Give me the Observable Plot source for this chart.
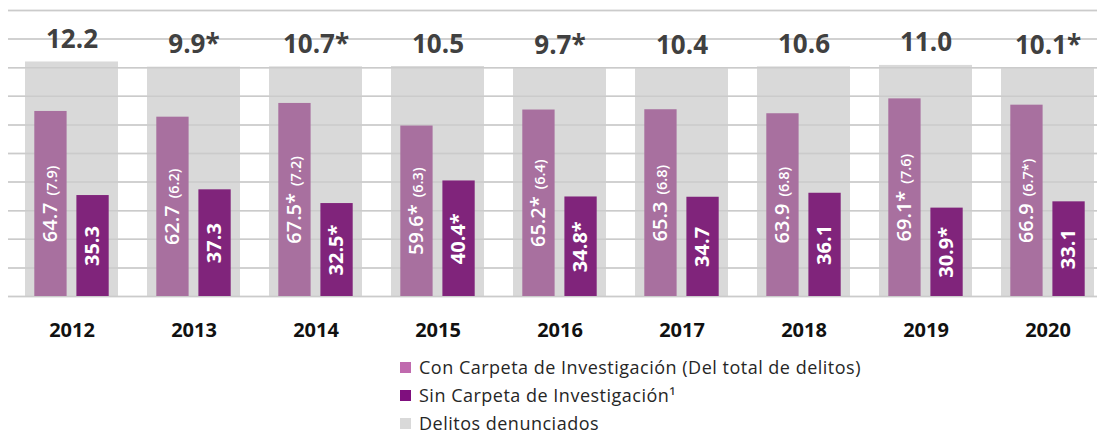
<!DOCTYPE html>
<html>
<head>
<meta charset="utf-8">
<script src="https://cdn.jsdelivr.net/npm/d3@7"></script>
<script src="https://cdn.jsdelivr.net/npm/@observablehq/plot@0.6"></script>
<style>
  html, body { margin: 0; padding: 0; background: #fff; }
  body { font-family: "Open Sans", sans-serif; width: 1097px; }
  #legend { padding-top: 8px; margin-left: 400px; }
  .row { display: flex; align-items: center; height: 28px; font-size: 18px; letter-spacing: 0.5px; color: #262626; line-height: 20px; }
  .sw { width: 11px; height: 11px; margin-right: 8px; flex: none; }
</style>
</head>
<body>
<div id="chart"></div>
<div id="legend"></div>
<script>
const years = ["2012", "2013", "2014", "2015", "2016", "2017", "2018", "2019", "2020"];
// Con Carpeta de Investigación (% of delitos denunciados)
const conValues = [64.7, 62.7, 67.5, 59.6, 65.2, 65.3, 63.9, 69.1, 66.9];
const conLabels = ["64.7", "62.7", "67.5*", "59.6*", "65.2*", "65.3", "63.9", "69.1*", "66.9"];
const conSubLabels = ["(7.9)", "(6.2)", "(7.2)", "(6.3)", "(6.4)", "(6.8)", "(6.8)", "(7.6)", "(6.7*)"];
// Sin Carpeta de Investigación
const sinValues = [35.3, 37.3, 32.5, 40.4, 34.8, 34.7, 36.1, 30.9, 33.1];
const sinLabels = ["35.3", "37.3", "32.5*", "40.4*", "34.8*", "34.7", "36.1", "30.9*", "33.1"];
// Delitos denunciados
const denValues = [12.2, 9.9, 10.7, 10.5, 9.7, 10.4, 10.6, 11.0, 10.1];
const denLabels = ["12.2", "9.9*", "10.7*", "10.5", "9.7*", "10.4", "10.6", "11.0", "10.1*"];
// background bar heights as drawn in the picture (on the 0–100 scale)
const denBarHeights = [82, 80.2, 80.3, 80.4, 79.8, 79.8, 80.3, 80.8, 79.8];
const gridTicks = [0, 10, 20, 30, 40, 50, 60, 70, 80, 90, 100];

const seriesNames = ["Con Carpeta de Investigación (Del total de delitos)", "Sin Carpeta de Investigación¹", "Delitos denunciados"];
const legendColors = ["#c06aae", "#7f0f7e", "#d9d9d9"];

const rows = years.map((year, i) => ({
  year,
  con: conValues[i],
  conLabel: conLabels[i] + "|" + conSubLabels[i],
  sin: sinValues[i],
  sinLabel: sinLabels[i],
  den: denValues[i],
  denLabel: denLabels[i],
  denBar: denBarHeights[i]
}));

const PINK = "#a8709f", PURPLE = "#80247b", GRAY = "#d9d9d9";

const plot = Plot.plot({
  width: 1097,
  height: 345,
  marginTop: 10,
  marginBottom: 49,
  marginLeft: 8,
  marginRight: 0,
  style: { fontFamily: "Open Sans", background: "transparent" },
  x: { domain: years, paddingInner: 0.24, paddingOuter: 0.072, align: 0.83, axis: null },
  y: { domain: [0, 100], axis: null },
  marks: [
    Plot.ruleY(gridTicks, { stroke: "#d9d9d9", strokeWidth: 1.5 }),
    Plot.barY(rows, { x: "year", y: "denBar", fill: GRAY }),
    Plot.ruleY(gridTicks, { stroke: "#c9c9c9", strokeWidth: 1.5, strokeOpacity: 0.9 }),
    Plot.barY(rows, { x: "year", y: "con", fill: PINK, insetLeft: 9.3, insetRight: 51.4 }),
    Plot.barY(rows, { x: "year", y: "sin", fill: PURPLE, insetLeft: 51.4, insetRight: 9.3 }),
    Plot.text(rows, { x: "year", y: "denBar", text: "denLabel", lineAnchor: "bottom", dy: -14,
      fontSize: 26, fontWeight: "bold", fill: "#404040" }),
    Plot.text(rows, { x: "year", y: d => d.con / 2, text: "conLabel", rotate: -90, dx: -21,
      fill: "white", fontSize: 20, fontWeight: 600 }),
    Plot.text(rows, { x: "year", y: d => d.sin / 2, text: "sinLabel", rotate: -90, dx: 21,
      fill: "white", fontSize: 20, fontWeight: "bold" }),
    Plot.text(rows, { x: "year", frameAnchor: "bottom", text: "year", lineAnchor: "top", dy: 26,
      fontSize: 20, fontWeight: "bold", fill: "#111" })
  ]
});

// split "main|sub" labels into two differently sized tspans
plot.querySelectorAll("text").forEach(t => {
  const s = t.textContent;
  if (s.includes("|")) {
    const [main, sub] = s.split("|");
    t.textContent = "";
    const a = document.createElementNS("http://www.w3.org/2000/svg", "tspan");
    a.textContent = main;
    const b = document.createElementNS("http://www.w3.org/2000/svg", "tspan");
    b.textContent = sub;
    b.setAttribute("font-size", "14.5");
    b.setAttribute("font-weight", "600");
    b.setAttribute("dx", "7");
    t.appendChild(a);
    t.appendChild(b);
  }
});

document.getElementById("chart").appendChild(plot);

const legend = document.getElementById("legend");
seriesNames.forEach((name, i) => {
  const r = document.createElement("div");
  r.className = "row";
  const sw = document.createElement("span");
  sw.className = "sw";
  sw.style.background = legendColors[i];
  const tx = document.createElement("span");
  tx.textContent = name;
  r.appendChild(sw);
  r.appendChild(tx);
  legend.appendChild(r);
});
</script>
</body>
</html>
